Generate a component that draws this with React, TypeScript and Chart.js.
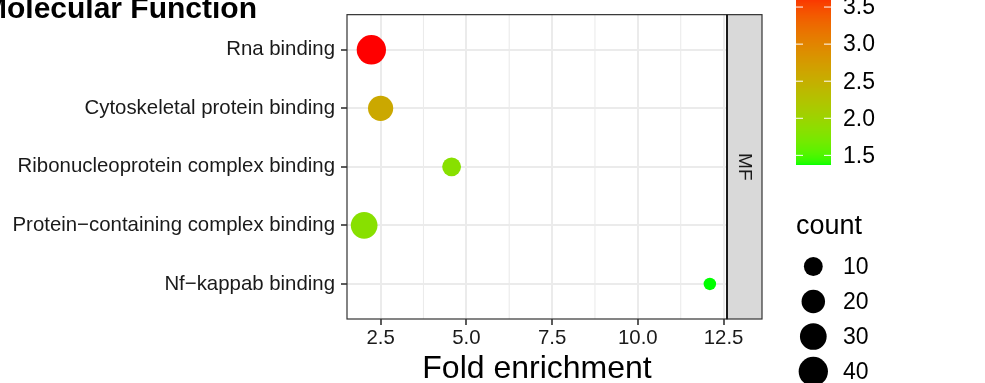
import React, { useEffect, useRef } from 'react';
import { Chart, registerables } from 'chart.js';
Chart.register(...registerables);

// ---------- data ----------
const categories = [
  'Rna binding',
  'Cytoskeletal protein binding',
  'Ribonucleoprotein complex binding',
  'Protein\u2212containing complex binding',
  'Nf\u2212kappab binding',
];
const foldEnrichment = [2.23, 2.5, 4.57, 2.02, 12.1];
const colorValues = [3.73, 2.59, 1.83, 1.83, 1.37];
const counts = [40, 25, 10, 30, 5];
const xTicks = [2.5, 5.0, 7.5, 10.0, 12.5];
const xMinorTicks = [3.75, 6.25, 8.75, 11.25];
const colorTicks = [1.5, 2.0, 2.5, 3.0, 3.5];
const countTicks = [10, 20, 30, 40];
const facetLabel = 'MF';
const titleText = 'Molecular Function';
const xTitle = 'Fold enrichment';
const countTitle = 'count';

const FONT = '"Liberation Sans", Arial, Helvetica, sans-serif';

// ---------- colour scale (Lab interpolation, green -> red) ----------
const LOW: [number, number, number] = [0, 255, 0];
const HIGH: [number, number, number] = [255, 0, 0];
const toLin = (c: number) => { c /= 255; return c <= 0.04045 ? c / 12.92 : Math.pow((c + 0.055) / 1.055, 2.4); };
const toSrgb = (c: number) => { const v = c <= 0.0031308 ? 12.92 * c : 1.055 * Math.pow(c, 1 / 2.4) - 0.055; return Math.round(Math.max(0, Math.min(1, v)) * 255); };
const WX = 0.95047, WY = 1, WZ = 1.08883;
const ff = (t: number) => (t > 0.008856 ? Math.cbrt(t) : 7.787 * t + 16 / 116);
const fi = (t: number) => (t > 0.206893 ? t * t * t : (t - 16 / 116) / 7.787);
function rgbToLab(rgb: number[]) {
  const r = toLin(rgb[0]), g = toLin(rgb[1]), b = toLin(rgb[2]);
  const X = 0.4124 * r + 0.3576 * g + 0.1805 * b;
  const Y = 0.2126 * r + 0.7152 * g + 0.0722 * b;
  const Z = 0.0193 * r + 0.1192 * g + 0.9505 * b;
  const fx = ff(X / WX), fy = ff(Y / WY), fz = ff(Z / WZ);
  return [116 * fy - 16, 500 * (fx - fy), 200 * (fy - fz)];
}
function labToRgb(lab: number[]) {
  const fy = (lab[0] + 16) / 116, fx = fy + lab[1] / 500, fz = fy - lab[2] / 200;
  const X = fi(fx) * WX, Y = fi(fy) * WY, Z = fi(fz) * WZ;
  const r = 3.2406 * X - 1.5372 * Y - 0.4986 * Z;
  const g = -0.9689 * X + 1.8758 * Y + 0.0415 * Z;
  const b = 0.0557 * X - 0.204 * Y + 1.057 * Z;
  return `rgb(${toSrgb(r)},${toSrgb(g)},${toSrgb(b)})`;
}
const labLow = rgbToLab(LOW), labHigh = rgbToLab(HIGH);
const vMin = Math.min(...colorValues), vMax = Math.max(...colorValues);
function colorOf(v: number) {
  const t = Math.max(0, Math.min(1, (v - vMin) / (vMax - vMin)));
  return labToRgb([0, 1, 2].map((k) => labLow[k] + (labHigh[k] - labLow[k]) * t));
}

// ---------- size scale ----------
const cMin = Math.min(...counts), cMax = Math.max(...counts);
function radiusOf(c: number) {
  const s = Math.sqrt(Math.max(0, (c - cMin) / (cMax - cMin)));
  return (12.5 + 16.8 * s) / 2;
}

const extrasPlugin = {
  id: 'ggExtras',
  beforeDatasetsDraw(chart: any) {
    const { ctx, chartArea, scales } = chart;
    ctx.save();
    ctx.strokeStyle = '#EBEBEB';
    ctx.lineWidth = 1.1;
    xMinorTicks.forEach((v) => {
      const x = scales.x.getPixelForValue(v);
      ctx.beginPath();
      ctx.moveTo(x, chartArea.top);
      ctx.lineTo(x, chartArea.bottom);
      ctx.stroke();
    });
    ctx.restore();
  },
  afterDraw(chart: any) {
    const { ctx, chartArea } = chart;
    const { left, right, top, bottom } = chartArea;
    ctx.save();
    // panel border
    ctx.strokeStyle = '#333333';
    ctx.lineWidth = 1.2;
    ctx.strokeRect(left, top, right - left, bottom - top);
    // strip
    const stripW = 35;
    ctx.fillStyle = '#D9D9D9';
    ctx.fillRect(right, top, stripW, bottom - top);
    ctx.strokeStyle = '#333333';
    ctx.lineWidth = 1.2;
    ctx.strokeRect(right, top, stripW, bottom - top);
    ctx.strokeStyle = '#1A1A1A';
    ctx.lineWidth = 2;
    ctx.beginPath();
    ctx.moveTo(right, top);
    ctx.lineTo(right, bottom);
    ctx.stroke();
    ctx.save();
    ctx.translate(right + stripW / 2, (top + bottom) / 2);
    ctx.rotate(Math.PI / 2);
    ctx.fillStyle = '#1A1A1A';
    ctx.font = `19px ${FONT}`;
    ctx.textAlign = 'center';
    ctx.textBaseline = 'middle';
    ctx.fillText(facetLabel, 0, 0);
    ctx.restore();

    // title
    ctx.fillStyle = '#000';
    ctx.font = `bold 30px ${FONT}`;
    ctx.textAlign = 'right';
    ctx.textBaseline = 'alphabetic';
    ctx.fillText(titleText, 257, 17.5);

    // x axis title
    ctx.font = `32px ${FONT}`;
    ctx.textAlign = 'center';
    ctx.fillText(xTitle, (left + right) / 2, 378);

    // colour bar
    const barL = 796, barR = 831, barBottom = 165, barLen = 175;
    const yOf = (v: number) => barBottom - ((v - vMin) / (vMax - vMin)) * barLen;
    for (let y = Math.floor(barBottom - barLen); y < barBottom; y++) {
      const v = vMin + ((barBottom - (y + 0.5)) / barLen) * (vMax - vMin);
      ctx.fillStyle = colorOf(v);
      ctx.fillRect(barL, y, barR - barL, 1);
    }
    ctx.strokeStyle = '#FFFFFF';
    ctx.lineWidth = 1;
    ctx.font = `23px ${FONT}`;
    ctx.textAlign = 'left';
    ctx.textBaseline = 'middle';
    colorTicks.forEach((v) => {
      const y = yOf(v);
      ctx.beginPath();
      ctx.moveTo(barL, y); ctx.lineTo(barL + 7, y);
      ctx.moveTo(barR - 7, y); ctx.lineTo(barR, y);
      ctx.stroke();
      ctx.fillStyle = '#000';
      ctx.fillText(v.toFixed(1), 843, y + 1);
    });

    // count legend
    ctx.fillStyle = '#000';
    ctx.font = `27px ${FONT}`;
    ctx.textBaseline = 'alphabetic';
    ctx.fillText(countTitle, 796, 234);
    ctx.font = `23px ${FONT}`;
    ctx.textBaseline = 'middle';
    countTicks.forEach((v, i) => {
      const cy = 266.5 + i * 35;
      ctx.beginPath();
      ctx.arc(813.3, cy, radiusOf(v), 0, Math.PI * 2);
      ctx.fill();
      ctx.fillText(String(v), 843, cy + 1);
    });
    ctx.restore();
  },
};

export default function App() {
  const ref = useRef<HTMLCanvasElement>(null);
  useEffect(() => {
    if (!ref.current) return;
    Chart.defaults.font.family = FONT;
    const n = categories.length;
    const chart = new Chart(ref.current, {
      type: 'bubble',
      data: {
        datasets: [
          {
            data: categories.map((_, i) => ({ x: foldEnrichment[i], y: n - i, r: radiusOf(counts[i]) })),
            backgroundColor: colorValues.map(colorOf),
            borderWidth: 0,
            hoverRadius: 0,
          } as any,
        ],
      },
      options: {
        responsive: false,
        animation: false,
        events: [],
        layout: { padding: { left: 0, right: 258, top: 14, bottom: 0 } },
        plugins: { legend: { display: false }, tooltip: { enabled: false }, title: { display: false } },
        scales: {
          x: {
            type: 'linear',
            min: 1.52,
            max: 12.6,
            afterBuildTicks: (s: any) => { s.ticks = xTicks.map((v) => ({ value: v })); },
            afterFit: (s: any) => { s.height = 64; s.paddingLeft = 0; s.paddingRight = 0; },
            ticks: {
              callback: (v: any) => Number(v).toFixed(1),
              font: { size: 20.4, family: FONT },
              color: '#1A1A1A',
              padding: 1.5,
              maxRotation: 0,
              autoSkip: false,
            },
            grid: { color: '#EBEBEB', lineWidth: 2, tickLength: 6, tickColor: '#333333', tickWidth: 1.6, drawTicks: true },
            border: { display: false },
          },
          y: {
            type: 'linear',
            min: 0.4,
            max: 5.6,
            afterBuildTicks: (s: any) => { s.ticks = categories.map((_, i) => ({ value: n - i })); },
            afterFit: (s: any) => { s.width = 347; s.paddingTop = 0; s.paddingBottom = 0; },
            ticks: {
              callback: (v: any) => categories[n - Number(v)],
              font: { size: 20.4, family: FONT },
              color: '#1A1A1A',
              padding: 6,
              autoSkip: false,
            },
            grid: { color: '#EBEBEB', lineWidth: 2, tickLength: 6, tickColor: '#333333', tickWidth: 1.6, drawTicks: true },
            border: { display: false },
          },
        },
      },
      plugins: [extrasPlugin],
    });
    return () => chart.destroy();
  }, []);
  return (
    <div style={{ position: 'fixed', left: 0, top: 0, width: 985, height: 383, background: '#fff' }}>
      <canvas ref={ref} width={985} height={383} style={{ display: 'block' }} />
    </div>
  );
}
